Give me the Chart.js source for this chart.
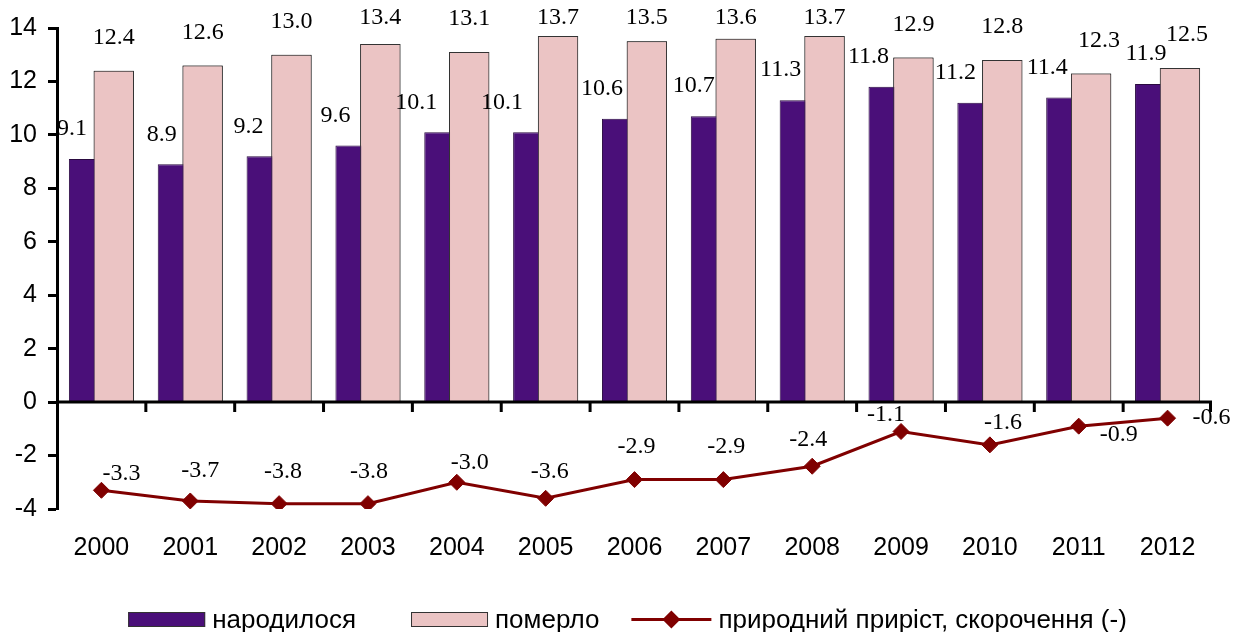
<!DOCTYPE html>
<html>
<head>
<meta charset="utf-8">
<script src="https://cdn.jsdelivr.net/npm/chart.js@4.4.0/dist/chart.umd.min.js"></script>
<style>
    html, body { margin: 0; padding: 0; background: #fff; }
</style>
</head>
<body>
<canvas id="birthChart" width="1241" height="632"></canvas>
<script>
const years = ["2000", "2001", "2002", "2003", "2004", "2005", "2006", "2007", "2008", "2009", "2010", "2011", "2012"];
const born = [9.1, 8.9, 9.2, 9.6, 10.1, 10.1, 10.6, 10.7, 11.3, 11.8, 11.2, 11.4, 11.9];
const died = [12.4, 12.6, 13.0, 13.4, 13.1, 13.7, 13.5, 13.6, 13.7, 12.9, 12.8, 12.3, 12.5];
const growth = [-3.3, -3.7, -3.8, -3.8, -3.0, -3.6, -2.9, -2.9, -2.4, -1.1, -1.6, -0.9, -0.6];
const yTicks = [-4, -2, 0, 2, 4, 6, 8, 10, 12, 14];

// label nudges, copied by eye from the original placement
const bornLabelShift = [3, 4, 2, 0, -8, -11, 0, 3, 1, 0, -2, 1, 11];
const diedLabelShift = [0, 0, 0, 0, 0, 0, 0, 0, 0, 0, 0, 8, 7];
const growthLabelShift = [[20, -17], [10, -30], [4, -32], [1, -32], [13, -20], [4, -27], [2, -33], [3, -33], [-4, -27], [-15, -17], [13, -22], [40, 9], [44, 0]];

const sansFont = '"Liberation Sans", Arial, sans-serif';
const serifFont = '"Liberation Serif", "Times New Roman", serif';

Chart.defaults.font.family = sansFont;
Chart.defaults.color = "#000";

// pink bars overlap the purple ones, so draw them again on top
const redrawPink = {
    id: "redrawPink",
    afterDatasetsDraw(chart) {
        chart.getDatasetMeta(1).controller.draw();
    }
};

// x axis line at zero with ticks between the years
const zeroAxis = {
    id: "zeroAxis",
    afterDatasetsDraw(chart) {
        const { ctx, chartArea, scales: { x, y } } = chart;
        const y0 = y.getPixelForValue(0);
        ctx.save();
        ctx.strokeStyle = "#000";
        ctx.lineWidth = 3;
        ctx.beginPath();
        ctx.moveTo(chartArea.left, y0);
        ctx.lineTo(chartArea.right, y0);
        for (let i = 1; i <= years.length; i++) {
            const xb = i < years.length
                ? (x.getPixelForValue(i - 1) + x.getPixelForValue(i)) / 2
                : chartArea.right - 1.5;
            ctx.moveTo(xb, y0);
            ctx.lineTo(xb, y0 + 10);
        }
        ctx.stroke();
        ctx.restore();
    }
};

const valueLabels = {
    id: "valueLabels",
    afterDatasetsDraw(chart) {
        const ctx = chart.ctx;
        const topLimit = chart.chartArea.top - 10;
        ctx.save();
        ctx.font = "24px " + serifFont;
        ctx.fillStyle = "#000";
        ctx.textAlign = "center";
        ctx.textBaseline = "middle";
        chart.getDatasetMeta(0).data.forEach(function (bar, i) {
            ctx.fillText(born[i].toFixed(1), bar.x - bar.width / 2 + bornLabelShift[i], bar.y - 30);
        });
        chart.getDatasetMeta(1).data.forEach(function (bar, i) {
            ctx.fillText(died[i].toFixed(1), bar.x + diedLabelShift[i], Math.max(bar.y - 33, topLimit));
        });
        chart.getDatasetMeta(2).data.forEach(function (pt, i) {
            const s = growthLabelShift[i];
            ctx.fillText(growth[i].toFixed(1), pt.x + s[0], pt.y + s[1]);
        });
        ctx.restore();
    }
};

// legend drawn by hand to match the spacing of the original
const bottomLegend = {
    id: "bottomLegend",
    afterDraw(chart) {
        const ctx = chart.ctx;
        const ds = chart.data.datasets;
        const boxW = 77, boxH = 15, lineW = 80, textGap = 7;
        const gaps = [55, 32];
        ctx.save();
        ctx.font = "26px " + sansFont;
        const widths = ds.map(d => ctx.measureText(d.label).width);
        let total = boxW + textGap + widths[0] + gaps[0] + boxW + textGap + widths[1] + gaps[1] + lineW + textGap + widths[2];
        let x = chart.width / 2 + 7 - total / 2;
        const cy = 619.5;
        ctx.textBaseline = "middle";
        ctx.textAlign = "left";
        for (let i = 0; i < ds.length; i++) {
            if (ds[i].type === "line") {
                ctx.strokeStyle = ds[i].borderColor;
                ctx.lineWidth = 3;
                ctx.beginPath();
                ctx.moveTo(x, cy);
                ctx.lineTo(x + lineW, cy);
                ctx.stroke();
                const mx = x + lineW / 2, r = 9;
                ctx.fillStyle = ds[i].borderColor;
                ctx.beginPath();
                ctx.moveTo(mx - r, cy);
                ctx.lineTo(mx, cy - r);
                ctx.lineTo(mx + r, cy);
                ctx.lineTo(mx, cy + r);
                ctx.closePath();
                ctx.fill();
                x += lineW;
            } else {
                ctx.fillStyle = ds[i].backgroundColor;
                ctx.fillRect(x, cy - boxH / 2, boxW, boxH);
                ctx.strokeStyle = "#333";
                ctx.lineWidth = 1;
                ctx.strokeRect(x + 0.5, cy - boxH / 2 + 0.5, boxW - 1, boxH - 1);
                x += boxW;
            }
            x += textGap;
            ctx.fillStyle = "#000";
            ctx.fillText(ds[i].label, x, cy + 1);
            x += widths[i] + (gaps[i] || 0);
        }
        ctx.restore();
    }
};

const ctx = document.getElementById("birthChart").getContext("2d");

new Chart(ctx, {
    type: "bar",
    data: {
        labels: years,
        datasets: [
            {
                label: "народилося",
                data: born,
                backgroundColor: "#4a0f79",
                borderColor: "#2a0a40",
                borderWidth: 1,
                categoryPercentage: 0.557,
                barPercentage: 1.63,
            },
            {
                label: "померло",
                data: died,
                backgroundColor: "#ebc4c4",
                borderColor: "#333",
                borderWidth: 1,
                categoryPercentage: 0.557,
                barPercentage: 1.63,
            },
            {
                type: "line",
                label: "природний приріст, скорочення (-)",
                data: growth,
                borderColor: "#800000",
                backgroundColor: "#800000",
                borderWidth: 3,
                tension: 0,
                fill: false,
                pointStyle: "rectRot",
                pointRadius: 8,
                pointBorderWidth: 1,
                pointBackgroundColor: "#800000",
                pointBorderColor: "#800000",
            },
        ],
    },
    options: {
        responsive: false,
        animation: false,
        layout: {
            padding: { top: 28, right: 29, bottom: 45, left: 0 },
        },
        scales: {
            x: {
                offset: true,
                grid: { display: false, drawTicks: false },
                border: { display: false },
                ticks: {
                    color: "#000",
                    font: { size: 25 },
                    padding: 24,
                    maxRotation: 0,
                    autoSkip: false,
                },
            },
            y: {
                min: -4,
                max: 14,
                afterBuildTicks: function (scale) {
                    scale.ticks = yTicks.map(v => ({ value: v }));
                },
                afterFit: function (scale) {
                    scale.width = 57;
                },
                ticks: {
                    color: "#000",
                    font: { size: 25 },
                    padding: 11,
                },
                grid: {
                    display: true,
                    drawOnChartArea: false,
                    drawTicks: true,
                    tickLength: 9,
                    tickWidth: 3,
                    tickColor: "#000",
                },
                border: { display: true, color: "#000", width: 3 },
            },
        },
        plugins: {
            legend: { display: false },
            tooltip: { enabled: false },
        },
    },
    plugins: [redrawPink, zeroAxis, valueLabels, bottomLegend],
});
</script>
</body>
</html>
